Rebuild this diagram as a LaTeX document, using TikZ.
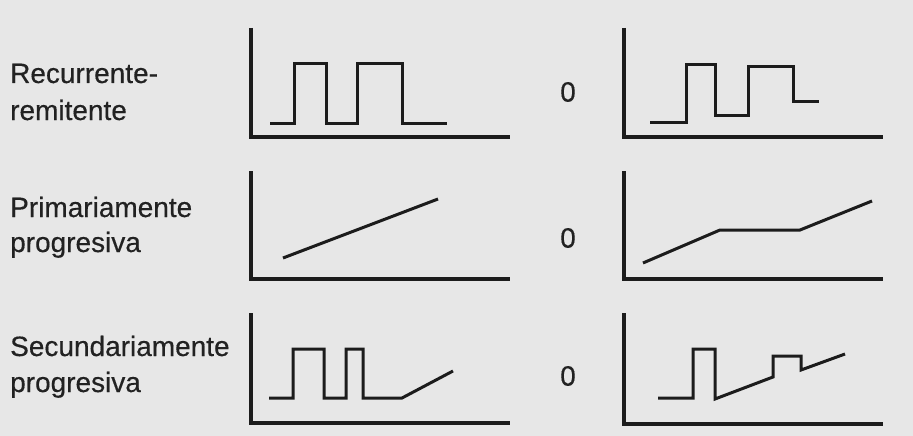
\documentclass[tikz,border=0pt]{standalone}
\usepackage{fontspec}
\setmainfont[FakeBold=0.4]{Liberation Sans}
\definecolor{bgc}{RGB}{231,231,231}
\definecolor{ink}{RGB}{28,28,28}
\definecolor{txt}{RGB}{34,34,34}
\tikzset{
  axisline/.style={draw=ink, line width=3.2pt, line join=miter},
  curveline/.style={draw=ink, line width=3pt, line join=miter},
  lbl/.style={anchor=base west, inner sep=0pt, text=txt, font=\fontsize{28}{36}\selectfont},
  zero/.style={anchor=center, inner sep=0pt, text=txt, font=\fontsize{28}{36}\selectfont}
}
\begin{document}
\begin{tikzpicture}[x=1pt,y=-1pt]
\fill[bgc] (0,0) rectangle (913,436);
\useasboundingbox (0,0) rectangle (913,436);

% labels
\node[lbl] (l1a) at (10,83) {Recurrente-};
\node[lbl] (l1b) at (10,120) {remitente};
\node[lbl] (l2a) at (10,217) {Primariamente};
\node[lbl] (l2b) at (10,252) {progresiva};
\node[lbl] (l3a) at (10,356) {Secundariamente};
\node[lbl] (l3b) at (10,392) {progresiva};

\node[zero] (z1) at (568,92) {0};
\node[zero] (z2) at (568,238) {0};
\node[zero] (z3) at (568,376) {0};

% row 1
\draw[axisline] (251,28) -- (251,137) -- (510,137);
\draw[curveline] (270,123) -- (294,123) -- (294,64) -- (326,64) -- (326,123) -- (357,123) -- (357,64) -- (402,64) -- (402,123) -- (447,123);
\draw[axisline] (624,28) -- (624,137) -- (883,137);
\draw[curveline] (650,122) -- (686,122) -- (686,65) -- (715,65) -- (715,115) -- (748,115) -- (748,67) -- (793,67) -- (793,101) -- (819,101);

% row 2
\draw[axisline] (251,171) -- (251,279) -- (510,279);
\draw[curveline] (283,258) -- (438,199);
\draw[axisline] (624,171) -- (624,279) -- (883,279);
\draw[curveline] (643,263) -- (720,230) -- (800,230) -- (872,201);

% row 3
\draw[axisline] (251,313) -- (251,423) -- (510,423);
\draw[curveline] (269,398) -- (293,398) -- (293,349) -- (324,349) -- (324,398) -- (346,398) -- (346,349) -- (363,349) -- (363,398) -- (402,398) -- (453,371);
\draw[axisline] (624,313) -- (624,424) -- (883,424);
\draw[curveline] (658,398) -- (693,398) -- (693,349) -- (715,349) -- (715,399) -- (773,377) -- (773,356) -- (801,356) -- (801,370) -- (845,354);
\end{tikzpicture}
\end{document}
